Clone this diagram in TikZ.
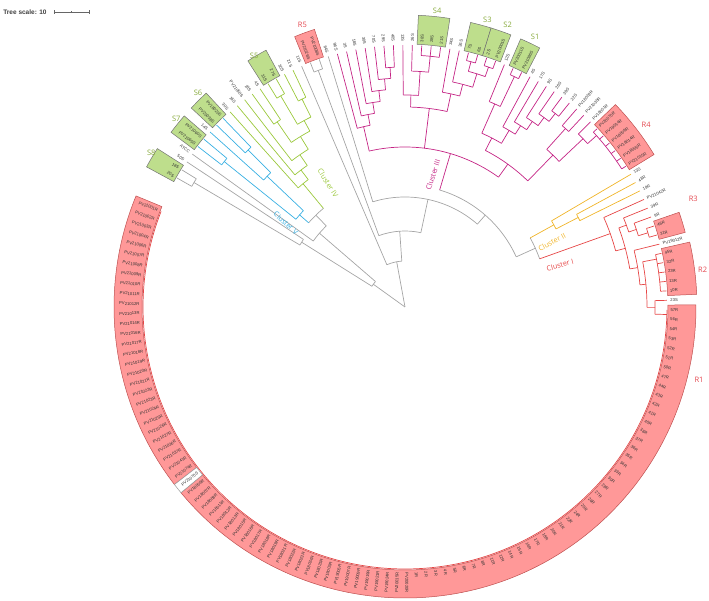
\documentclass[tikz,border=0pt]{standalone}
\usepackage{fontspec}
\setmainfont{Liberation Sans}
\newfontfamily\clusterfont{Open Sans}
\usetikzlibrary{calc}

\definecolor{treegray}{RGB}{165,165,165}
\definecolor{clIII}{RGB}{196,36,132}
\definecolor{clIV}{RGB}{155,200,60}
\definecolor{clV}{RGB}{56,176,226}
\definecolor{clII}{RGB}{240,180,40}
\definecolor{clI}{RGB}{230,70,70}
\definecolor{stripred}{RGB}{255,152,152}
\definecolor{stripedge}{RGB}{190,80,80}
\definecolor{boxgreen}{RGB}{190,222,140}
\definecolor{sgreen}{RGB}{135,170,60}
\definecolor{rred}{RGB}{228,72,80}

% colour, parent radius, radius, node index, first child, last child
\newcommand\clade[6]{%
  \draw[#1] ({th(#4)}:#2) -- ({th(#4)}:#3);
  \draw[#1] ({th(#5)}:#3) arc[start angle={th(#5)}, end angle={th(#6)}, radius=#3];}
% colour, parent radius, leaf index
\newcommand\leafline[3]{\draw[#1] ({th(#3)}:#2) -- ({th(#3)}:262);}
% style, first, last, inner radius, outer radius
\newcommand\labelband[5]{%
  \draw[#1] ({th(#2)}:#4) arc[start angle={th(#2)}, end angle={th(#3)}, radius=#4]
    -- ({th(#3)}:#5) arc[start angle={th(#3)}, end angle={th(#2)}, radius=#5] -- cycle;}

\begin{document}
\begin{tikzpicture}[x=1pt,y=1pt,line width=0.7pt,
  declare function={th(\k)=152.57-2.07*\k;},
  leaflab/.style={font=\fontsize{4.2}{4.2}\selectfont,text=black!80,inner sep=0.2pt},
  setlab/.style={font=\clusterfont\fontsize{7.5}{8}\selectfont,inner sep=0pt},
  clusterlab/.style={font=\clusterfont\fontsize{7.2}{8}\selectfont,inner sep=0pt},
  redbox/.style={fill=stripred,draw=stripedge,line width=0.5pt},
  greenbox/.style={fill=boxgreen,draw=black!55,line width=0.5pt}]
\useasboundingbox (-405,-294) rectangle (304,307);

% label boxes
\labelband{redbox}{73.5}{141.5}{263}{291}
\labelband{redbox}{142.5}{171.5}{263}{291}
\labelband{fill=white,draw=black!40,line width=0.5pt}{141.5}{142.5}{263}{291}
\labelband{redbox}{67.5}{72.5}{263}{292}
\labelband{redbox}{64.5}{66.5}{263}{290}
\labelband{redbox}{52.5}{58.5}{263}{292}
\labelband{redbox}{19.5}{21.5}{263}{292}
\labelband{greenbox}{41.5}{43.5}{263}{292}
\labelband{greenbox}{38.5}{40.5}{263}{292}
\labelband{greenbox}{36.5}{38.5}{263}{292}
\labelband{greenbox}{31.5}{34.5}{263}{292}
\labelband{greenbox}{14.5}{16.5}{263}{292}
\labelband{greenbox}{7.5}{9.5}{263}{292}
\labelband{greenbox}{4.5}{6.5}{263}{292}
\labelband{greenbox}{0.5}{2.5}{263}{294}

% leaf labels
\foreach \lab [count=\i] in {20S,18S,50S,ATCC,PV21065S,PV21060S,14S,PV20038S,PV18020S,30S,
  16S,PV21050S,18S,4S,31S,27S,30S,21S,11S,PV21026S,PV21008S,84S,
  96S,3S,18S,30S,70S,29S,40S,13S,26S,38S,28S,21S,34S,36S,7S,6S,2S,PV20001S,
  12S,PV20011S,PV21086S,4S,17S,9S,26S,39S,22S,PV18002R,PV21030R,PV18001R,
  PV20070R,PV19014R,PV18009R,PV18014R,PV18005R,PV21015R,
  13S,48R,19R,PV21042R,39R,9R,46R,31R,PV19012R,45R,32R,23R,13R,10R,23S,
  57R,56R,54R,53R,52R,51R,50R,47R,44R,43R,42R,41R,40R,38R,37R,36R,35R,34R,33R,30R,
  28R,27R,26R,25R,24R,22R,21R,20R,18R,17R,16R,15R,14R,12R,11R,8R,7R,6R,5R,4R,3R,2R,1R,
  PV20020R,PV20015R,PV19024R,PV19021R,PV19019R,PV19009R,PV19007R,PV19005R,PV19003R,
  PV18025R,PV18024R,PV18023R,PV18022R,PV18021R,PV18019R,PV18018R,PV18017R,PV18016R,
  PV18015R,PV18013R,PV18012R,PV18011R,PV18008R,PV18007R,PV18006R,PV21070S,
  PV21074R,PV21041R,PV21037R,PV21036R,PV21027R,PV21026R,PV21025R,PV21024R,PV21023R,
  PV21022R,PV21021R,PV21020R,PV21019R,PV21018R,PV21017R,PV21016R,PV21014R,PV21013R,
  PV21012R,PV21011R,PV21010R,PV21009R,PV21008R,PV21007R,PV21006R,PV21004R,PV21003R,
  PV21002R,PV21001R}{
  \pgfmathsetmacro\a{th(\i)}
  \pgfmathsetmacro\flip{cos(\a)<0}
  \ifdim\flip pt>0.5pt
    \pgfmathsetmacro\b{\a+180}
    \node[leaflab,anchor=east,rotate=\b] (l\i) at (\a:265) {\lab};
  \else
    \node[leaflab,anchor=west,rotate=\a] (l\i) at (\a:265) {\lab};
  \fi
}

% outgroup, cluster V and cluster IV
\clade{treegray}{0}{39}{4.0}{2.25}{6.45}
\clade{treegray}{39}{122}{2.25}{1.5}{3}
\clade{treegray}{122}{245}{1.5}{1}{2}
\leafline{treegray}{245}{1}
\leafline{treegray}{245}{2}
\leafline{treegray}{122}{3}
\clade{treegray}{39}{113}{6.45}{4}{8.9}
\leafline{treegray}{113}{4}
\clade{treegray}{113}{128}{8.9}{6.625}{11.1}
\clade{clV}{128}{140}{6.625}{5.5}{7.75}
\clade{clV}{140}{232}{5.5}{5}{6}
\leafline{clV}{232}{5}
\leafline{clV}{232}{6}
\clade{clV}{140}{190}{7.75}{7}{8.5}
\leafline{clV}{190}{7}
\clade{clV}{190}{222}{8.5}{8}{9}
\leafline{clV}{222}{8}
\leafline{clV}{222}{9}
\clade{clIV}{128}{160}{11.1}{10}{12.25}
\leafline{clIV}{160}{10}
\clade{clIV}{160}{172}{12.25}{11}{13.5}
\leafline{clIV}{172}{11}
\clade{clIV}{172}{185}{13.5}{12}{15}
\leafline{clIV}{185}{12}
\clade{clIV}{185}{200}{15}{13.5}{16.5}
\clade{clIV}{200}{225}{13.5}{13}{14}
\leafline{clIV}{225}{13}
\leafline{clIV}{225}{14}
\clade{clIV}{200}{212}{16.5}{15.5}{17.5}
\clade{clIV}{212}{245}{15.5}{15}{16}
\leafline{clIV}{245}{15}
\leafline{clIV}{245}{16}
\clade{clIV}{212}{232}{17.5}{17}{18}
\leafline{clIV}{232}{17}
\leafline{clIV}{232}{18}

% backbone
\clade{treegray}{0}{46}{25.2}{19}{28.3}
\leafline{treegray}{46}{19}
\clade{treegray}{46}{76}{28.3}{20.5}{36.05}
\clade{treegray}{76}{252}{20.5}{20}{21}
\leafline{treegray}{252}{20}
\leafline{treegray}{252}{21}
\clade{treegray}{76}{110}{36.05}{22}{50.1}
\leafline{treegray}{110}{22}
\clade{treegray}{110}{122}{50.1}{38.2}{61.98}

% cluster III
\clade{clIII}{122}{160}{38.2}{23.98}{47.5}
\clade{clIII}{160}{185}{23.98}{23}{24.97}
\leafline{clIII}{185}{23}
\clade{clIII}{185}{196}{24.97}{24}{25.9}
\leafline{clIII}{196}{24}
\clade{clIII}{196}{207}{25.9}{25}{26.9}
\leafline{clIII}{207}{25}
\clade{clIII}{207}{218}{26.9}{26}{27.75}
\leafline{clIII}{218}{26}
\clade{clIII}{218}{229}{27.75}{27}{28.5}
\leafline{clIII}{229}{27}
\clade{clIII}{229}{240}{28.5}{28}{29}
\leafline{clIII}{240}{28}
\leafline{clIII}{240}{29}
\clade{clIII}{160}{200}{33.6}{31}{36.1}
\clade{clIII}{200}{212}{31}{30}{32}
\leafline{clIII}{212}{30}
\clade{clIII}{212}{236}{32}{31}{33}
\leafline{clIII}{236}{31}
\clade{clIII}{236}{252}{33}{32}{34}
\foreach \i in {32,33,34} {\leafline{clIII}{252}{\i}}
\clade{clIII}{200}{218}{36.1}{35}{37.25}
\leafline{clIII}{218}{35}
\clade{clIII}{218}{230}{37.25}{36}{38.5}
\leafline{clIII}{230}{36}
\clade{clIII}{230}{244}{38.5}{37.5}{39.5}
\clade{clIII}{244}{254}{37.5}{37}{38}
\clade{clIII}{244}{254}{39.5}{39}{40}
\foreach \i in {37,...,40} {\leafline{clIII}{254}{\i}}
\clade{clIII}{160}{176}{47.5}{43.36}{51.6}
\clade{clIII}{176}{190}{43.36}{41.75}{44.97}
\clade{clIII}{190}{222}{41.75}{41}{42.5}
\leafline{clIII}{222}{41}
\clade{clIII}{222}{255}{42.5}{42}{43}
\leafline{clIII}{255}{42}
\leafline{clIII}{255}{43}
\clade{clIII}{190}{205}{44.97}{44}{45.94}
\leafline{clIII}{205}{44}
\clade{clIII}{205}{215}{45.94}{45}{46.875}
\leafline{clIII}{215}{45}
\clade{clIII}{215}{225}{46.875}{46}{47.75}
\leafline{clIII}{225}{46}
\clade{clIII}{225}{235}{47.75}{47}{48.5}
\leafline{clIII}{235}{47}
\clade{clIII}{235}{245}{48.5}{48}{49}
\leafline{clIII}{245}{48}
\leafline{clIII}{245}{49}
\clade{clIII}{176}{212}{51.6}{50.5}{52.75}
\clade{clIII}{212}{240}{50.5}{50}{51}
\leafline{clIII}{240}{50}
\leafline{clIII}{240}{51}
\clade{clIII}{212}{245}{52.75}{52}{53.5}
\leafline{clIII}{245}{52}
\clade{clIII}{245}{257}{53.5}{53}{58}
\foreach \i in {53,...,58} {\leafline{clIII}{257}{\i}}

% clusters II and I
\clade{treegray}{122}{143}{61.98}{59.75}{64.2}
\clade{clII}{143}{170}{59.75}{59}{60.5}
\leafline{clII}{170}{59}
\clade{clII}{170}{195}{60.5}{60}{61}
\leafline{clII}{195}{60}
\leafline{clII}{195}{61}
\clade{clI}{143}{218}{64.2}{62}{66.5}
\leafline{clI}{218}{62}
\clade{clI}{218}{228}{66.5}{63.9}{69.06}
\clade{clI}{228}{236}{63.9}{63}{64.75}
\leafline{clI}{236}{63}
\clade{clI}{236}{244}{64.75}{64}{65.5}
\leafline{clI}{244}{64}
\clade{clI}{244}{254}{65.5}{65}{66}
\leafline{clI}{254}{65}
\leafline{clI}{254}{66}
\clade{clI}{228}{236}{69.06}{67}{71.1}
\leafline{clI}{236}{67}
\clade{clI}{236}{242}{71.1}{68.5}{73.75}
\clade{clI}{242}{256}{68.5}{68}{72}
\foreach \i in {68,...,72} {\leafline{clI}{256}{\i}}
\clade{clI}{242}{250}{73.75}{73}{74.5}
\leafline{clI}{250}{73}
% R1 comb sits on the inner edge of its band
\clade{clI}{250}{262}{74.5}{74}{171}

% cluster names
\node[clusterlab,text=clIII,rotate=72] (c3lab) at (28,132) {Cluster III};
\node[clusterlab,text=clII,rotate=28] (c2lab) at (147,65) {Cluster II};
\node[clusterlab,text=clI,rotate=15] (c1lab) at (155,42) {Cluster I};
\node[clusterlab,text=clIV,rotate=-58] (c4lab) at (-77,124) {Cluster IV};
\node[clusterlab,text=clV,rotate=-42] (c5lab) at (-119,84) {Cluster V};

% box names
\node[setlab,text=rred] (r1lab) at (-14:303) {R1};
\node[setlab,text=rred] (r2lab) at (7.2:300) {R2};
\node[setlab,text=rred] (r3lab) at (20.6:308) {R3};
\node[setlab,text=rred] (r4lab) at (37:302) {R4};
\node[setlab,text=rred] (r5lab) at (110:300) {R5};
\node[setlab,text=sgreen] (s1lab) at (64.3:300) {S1};
\node[setlab,text=sgreen] (s2lab) at (70:300) {S2};
\node[setlab,text=sgreen] (s3lab) at (74:299) {S3};
\node[setlab,text=sgreen] (s4lab) at (83.8:298) {S4};
\node[setlab,text=sgreen] (s5lab) at (121:293) {S5};
\node[setlab,text=sgreen] (s6lab) at (134:298) {S6};
\node[setlab,text=sgreen] (s7lab) at (140.6:296) {S7};
\node[setlab,text=sgreen] (s8lab) at (148.7:297) {S8};

% scale
\node[font=\bfseries\fontsize{6.5}{7}\selectfont,text=black!75,anchor=west,inner sep=0pt] (scale) at (-402,295) {Tree scale: 10};
\draw[black!60,line width=0.5pt] ($(scale.east)+(7,0)$) coordinate (sb0) -- ++(35,0) coordinate (sb1);
\foreach \p in {sb0,sb1} {\draw[black!60,line width=0.5pt] ($(\p)+(0,-2)$) -- ($(\p)+(0,2)$);}
\draw[black!60,line width=0.5pt] ($(sb0)!0.5!(sb1)+(0,-1.2)$) -- ($(sb0)!0.5!(sb1)+(0,1.2)$);
\end{tikzpicture}
\end{document}
